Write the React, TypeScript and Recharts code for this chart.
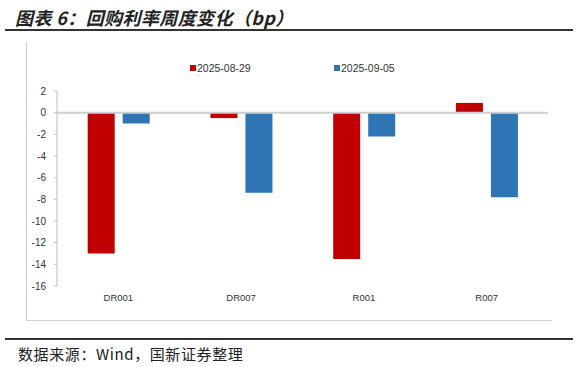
import React from "react";
import {
  BarChart,
  Bar,
  XAxis,
  YAxis,
  ReferenceLine,
  Legend,
} from "recharts";

const categories = ["DR001", "DR007", "R001", "R007"];
const week0829 = [-13.0, -0.5, -13.5, 0.9];
const week0905 = [-1.0, -7.4, -2.2, -7.8];
const yTicks = [2, 0, -2, -4, -6, -8, -10, -12, -14, -16];

const RED = "#C00000";
const BLUE = "#2E75B6";

const data = categories.map((name, i) => ({
  name,
  d0829: week0829[i],
  d0905: week0905[i],
}));

const legendItems = [
  { label: "2025-08-29", color: RED, left: 190 },
  { label: "2025-09-05", color: BLUE, left: 334 },
];

function LegendContent() {
  return (
    <div style={{ position: "relative", height: 14 }}>
      {legendItems.map((it) => (
        <div
          key={it.label}
          style={{
            position: "absolute",
            left: it.left,
            top: 0,
            display: "flex",
            alignItems: "center",
            fontSize: 10.5,
            color: "#333",
            fontFamily: "'Liberation Sans', Arial, sans-serif",
          }}
        >
          <span
            style={{
              display: "inline-block",
              width: 6,
              height: 6,
              background: it.color,
              marginRight: 1,
            }}
          />
          {it.label}
        </div>
      ))}
    </div>
  );
}

export default function App() {
  return (
    <div
      style={{
        position: "absolute",
        left: 0,
        top: 0,
        width: 578,
        height: 367,
        background: "#fff",
        fontFamily: "'Noto Sans CJK SC', sans-serif",
      }}
    >
      <div
        style={{
          position: "absolute",
          left: 15,
          top: 4,
          fontSize: 18,
          fontWeight: 700,
          fontStyle: "italic",
          letterSpacing: 0.4,
          color: "#222",
          whiteSpace: "nowrap",
        }}
      >
        图表 6：回购利率周度变化（bp）
      </div>
      <div
        style={{
          position: "absolute",
          left: 5,
          top: 29,
          width: 568,
          height: 2,
          background: "#333",
        }}
      />
      <div
        style={{
          position: "absolute",
          left: 26,
          top: 42,
          width: 525,
          height: 278,
          borderLeft: "1px solid #d0d0d0",
          borderBottom: "1px solid #d0d0d0",
        }}
      />
      <div style={{ position: "absolute", left: 0, top: 0 }}>
        <BarChart
          width={578}
          height={367}
          data={data}
          margin={{ top: 77, right: 30, bottom: 61, left: 27 }}
          barCategoryGap="25%"
          barGap={8}
        >
          <Legend
            verticalAlign="top"
            content={<LegendContent />}
            wrapperStyle={{ top: 62, left: 0, width: 578 }}
          />
          <XAxis
            dataKey="name"
            axisLine={false}
            tickLine={false}
            height={20}
            tick={{ fontSize: 9.5, fill: "#333", fontFamily: "'Liberation Sans', Arial, sans-serif" }}
          />
          <YAxis
            type="number"
            domain={[-16, 2]}
            ticks={yTicks}
            interval={0}
            width={30}
            axisLine={{ stroke: "#bfbfbf" }}
            tickLine={{ stroke: "#bfbfbf" }}
            tickSize={3}
            tickMargin={8}
            tick={{ fontSize: 10, fill: "#333", fontFamily: "'Liberation Sans', Arial, sans-serif" }}
          />
          <ReferenceLine y={0} stroke="#cfcfcf" strokeWidth={2} />
          <Bar dataKey="d0829" fill={RED} isAnimationActive={false} />
          <Bar dataKey="d0905" fill={BLUE} isAnimationActive={false} />
        </BarChart>
      </div>
      <div
        style={{
          position: "absolute",
          left: 5,
          top: 338,
          width: 568,
          height: 2,
          background: "#333",
        }}
      />
      <div
        style={{
          position: "absolute",
          left: 18,
          top: 343,
          fontSize: 15,
          letterSpacing: 0.6,
          color: "#222",
          whiteSpace: "nowrap",
        }}
      >
        数据来源：Wind，国新证券整理
      </div>
    </div>
  );
}
